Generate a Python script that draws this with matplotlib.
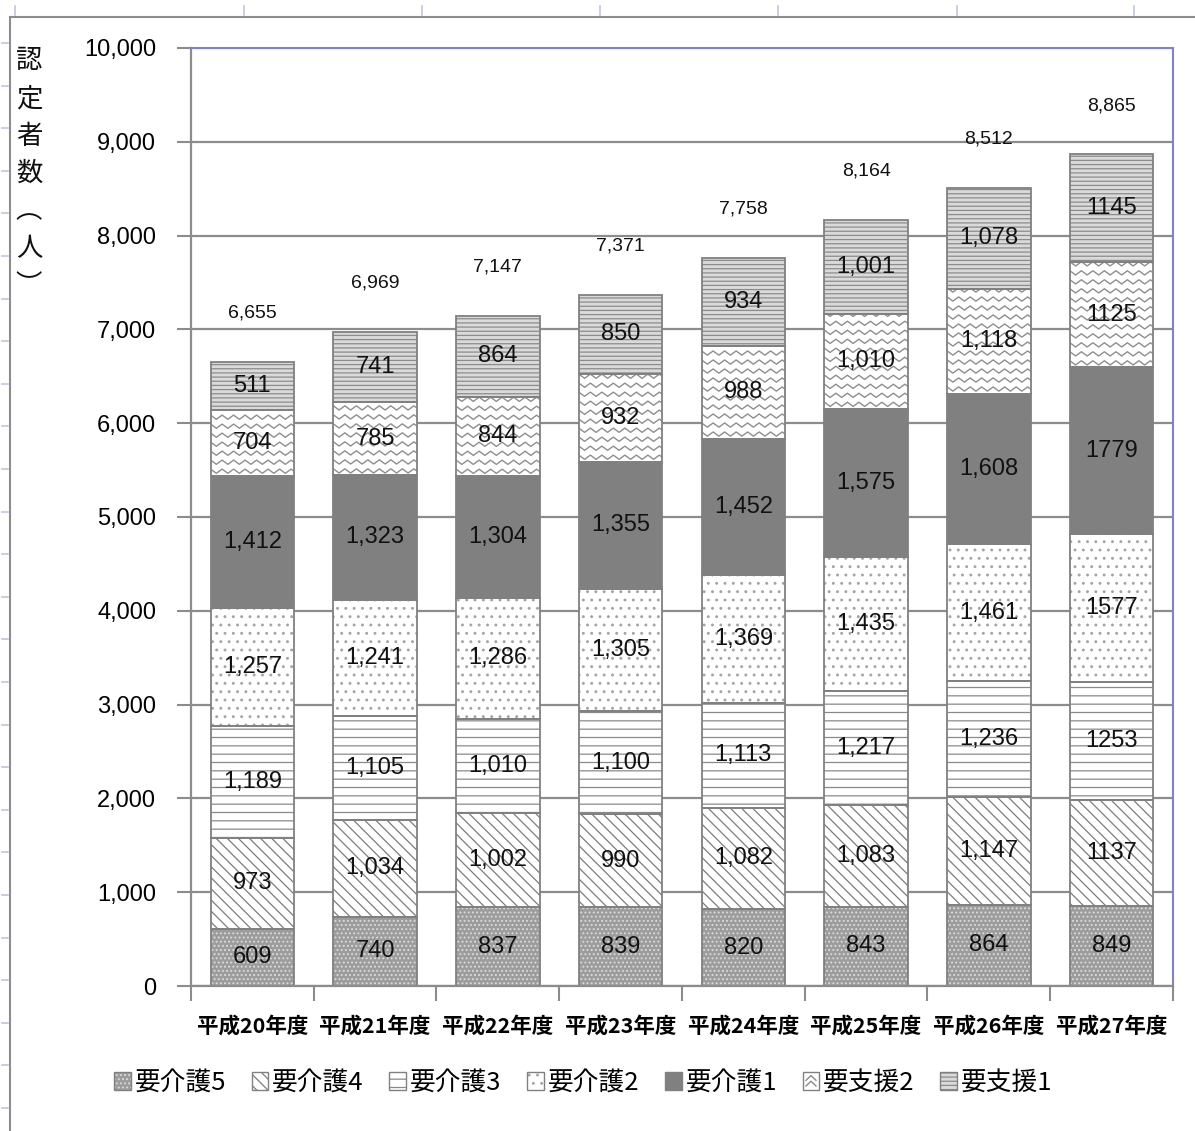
import matplotlib
matplotlib.use("Agg")
import matplotlib.pyplot as plt
import numpy as np
from matplotlib.patches import Patch, Rectangle
from matplotlib.lines import Line2D
from matplotlib.legend_handler import HandlerBase

plt.rcParams['font.family'] = ['Noto Sans CJK JP', 'DejaVu Sans']
plt.rcParams['hatch.linewidth'] = 0.9

# 年度別 要介護（要支援）認定者数
years = ['平成20年度', '平成21年度', '平成22年度', '平成23年度',
         '平成24年度', '平成25年度', '平成26年度', '平成27年度']
levels = ['要介護5', '要介護4', '要介護3', '要介護2', '要介護1', '要支援2', '要支援1']

kaigo5 = [609, 740, 837, 839, 820, 843, 864, 849]
kaigo4 = [973, 1034, 1002, 990, 1082, 1083, 1147, 1137]
kaigo3 = [1189, 1105, 1010, 1100, 1113, 1217, 1236, 1253]
kaigo2 = [1257, 1241, 1286, 1305, 1369, 1435, 1461, 1577]
kaigo1 = [1412, 1323, 1304, 1355, 1452, 1575, 1608, 1779]
shien2 = [704, 785, 844, 932, 988, 1010, 1118, 1125]
shien1 = [511, 741, 864, 850, 934, 1001, 1078, 1145]
# 平成27年度の内訳は桁区切りなしで表示
use_comma = [True, True, True, True, True, True, True, False]

series = [kaigo5, kaigo4, kaigo3, kaigo2, kaigo1, shien2, shien1]

# (塗り, ハッチ, ハッチ色)
styles = [
    ('#9c9c9c', '....', '#dadada'),
    ('white', '\\\\\\', '#7c7c7c'),
    ('white', '--', '#8a8a8a'),
    ('white', '..', '#a4a4a4'),
    ('#808080', None, '#808080'),
    ('white', None, '#8e8e8e'),      # ジグザグ模様は別途描画
    ('#dadada', '----', '#8c8c8c'),
]
ZIGZAG = 5
EDGE = '#808080'
GRID = '#8c8c8c'
NUM_FONT = 'Liberation Sans'

fig = plt.figure(figsize=(11.95, 11.31), dpi=100)
ax = fig.add_axes([0.1598, 0.1282, 0.8218, 0.8294])
ax.set_xlim(-0.5, 7.5)
ax.set_ylim(0, 10000)

x = np.arange(len(years))
width = 0.68


def draw_zigzag(rect, period=11.5, amp=2.1, gap=9, color='#8e8e8e'):
    # 画素単位の模様をデータ座標に換算して棒の中に描く
    fw, fh = fig.get_size_inches() * fig.dpi
    bb = ax.get_position()
    sx = (ax.get_xlim()[1] - ax.get_xlim()[0]) / (bb.width * fw)
    sy = (ax.get_ylim()[1] - ax.get_ylim()[0]) / (bb.height * fh)
    x0, y0 = rect.get_x(), rect.get_y()
    w, h = rect.get_width(), rect.get_height()
    n = int(w / (period * sx) * 2) + 2
    xs = x0 + np.arange(n + 1) * period * sx / 2
    offs = np.where(np.arange(n + 1) % 2 == 0, amp, -amp) * sy
    for yc in np.arange(y0 + gap * sy / 2, y0 + h, gap * sy):
        ln, = ax.plot(xs, yc + offs, color=color, lw=1.0, zorder=1.5)
        ln.set_clip_path(rect)


bottom = np.zeros(len(years))
handles = []
for k, (vals, (face, hatch, hc)) in enumerate(zip(series, styles)):
    vals = np.array(vals)
    bars = ax.bar(x, vals, width, bottom=bottom, color=face, edgecolor=hc,
                  hatch=hatch, linewidth=0, zorder=1)
    ax.bar(x, vals, width, bottom=bottom, fill=False, edgecolor=EDGE,
           linewidth=1.3, zorder=2)
    if k == ZIGZAG:
        for r in bars:
            draw_zigzag(r)
        handles.append(Patch(facecolor='white'))
    else:
        handles.append((Patch(facecolor=face, edgecolor=hc, hatch=hatch, lw=0),
                        Patch(fill=False, edgecolor=EDGE, lw=1.0)))
    for i, v in enumerate(vals):
        txt = f'{v:,}' if use_comma[i] else f'{v}'
        ax.text(x[i], bottom[i] + v / 2, txt, ha='center', va='center',
                fontsize=17, family=NUM_FONT, color='#111111', zorder=3)
    bottom += vals

totals = bottom
for i, t in enumerate(totals):
    ax.text(x[i], t + 520, f'{int(t):,}', ha='center', va='center',
            fontsize=14, family=NUM_FONT, color='#111111')

# 軸・目盛
ax.set_yticks(np.arange(0, 10001, 1000))
ax.set_yticklabels([f'{v:,}' for v in range(0, 10001, 1000)],
                   family=NUM_FONT, fontsize=17)
ax.yaxis.grid(True, color=GRID, lw=1.6)
ax.set_axisbelow(True)
ax.tick_params(axis='y', length=10, width=1.5, color=GRID, pad=15)

ax.set_xticks(x)
ax.set_xticklabels(years, fontsize=15.5, fontweight='bold')
ax.set_xticks(np.arange(-0.5, 8, 1), minor=True)
ax.tick_params(axis='x', which='major', length=0, pad=21)
ax.tick_params(axis='x', which='minor', length=11, width=1.5, color=GRID)

for s in ('left', 'bottom'):
    ax.spines[s].set_color(GRID)
    ax.spines[s].set_linewidth(1.6)
for s in ('top', 'right'):
    ax.spines[s].set_color('#8484bc')
    ax.spines[s].set_linewidth(1.5)

# 縦書きの軸ラベル
for j, ch in enumerate('認定者数︵人︶'):
    fig.text(29 / 1195, 1 - (61 + 37.5 * j) / 1131, ch, ha='center',
             va='center', fontsize=19, color='#111111')


class ZigzagHandler(HandlerBase):
    def create_artists(self, legend, orig_handle, xdescent, ydescent,
                       width, height, fontsize, trans):
        x0, y0 = -xdescent, -ydescent
        box = Rectangle((x0, y0), width, height, facecolor='white',
                        edgecolor=EDGE, lw=1.0, transform=trans)
        xs = x0 + width * np.array([0.2, 0.5, 0.8])
        arts = [box]
        for f in (0.35, 0.68):
            ys = y0 + height * np.array([f - 0.14, f + 0.14, f - 0.14])
            arts.append(Line2D(xs, ys, color='#8a8a8a', lw=1.0, transform=trans))
        return arts


fig.legend(handles, levels, loc='center', bbox_to_anchor=(0.488, 0.0424),
           ncol=7, frameon=False, fontsize=18.5, handlelength=0.65,
           handleheight=0.65, handletextpad=0.15, columnspacing=1.0,
           handler_map={handles[ZIGZAG]: ZigzagHandler()})

# 外枠の罫線
W, H = 1195, 1131
fig.add_artist(Line2D([10 / W, 1], [1 - 17 / H] * 2, color=GRID, lw=1.5,
                      transform=fig.transFigure))
fig.add_artist(Line2D([10 / W] * 2, [0, 1 - 17 / H], color=GRID, lw=1.5,
                      transform=fig.transFigure))
for px in [15, 244, 422, 600, 778, 957, 1134]:
    fig.add_artist(Line2D([px / W] * 2, [1 - 6 / H, 1 - 15 / H], color='#bcc6dc',
                          lw=1.2, transform=fig.transFigure))
for py in np.arange(43, H, 42.6):
    fig.add_artist(Line2D([2 / W, 8 / W], [1 - py / H] * 2, color='#bcc6dc',
                          lw=1.2, transform=fig.transFigure))

fig.savefig('out.png', dpi=100)
